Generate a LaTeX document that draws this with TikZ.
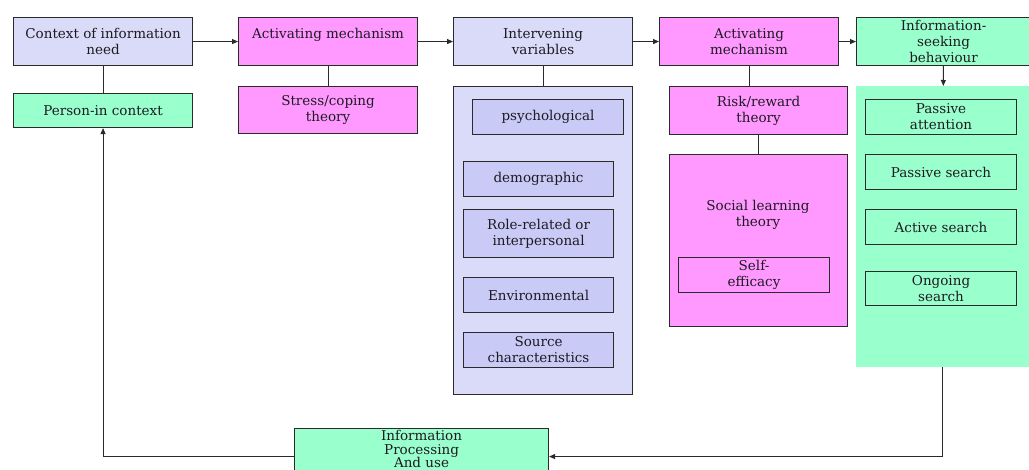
\documentclass[tikz,border=0pt]{standalone}
\usepackage{fontspec}
\setmainfont{DejaVu Serif}
\usetikzlibrary{arrows.meta}
\definecolor{lav}{HTML}{D9DBF8}
\definecolor{lavin}{HTML}{C9CBF6}
\definecolor{pinkf}{HTML}{FF99FF}
\definecolor{greenf}{HTML}{99FFCC}
\definecolor{linec}{HTML}{2A2A2A}
\definecolor{txtc}{HTML}{1E1A22}
\newcommand\fs{\fontsize{13.5}{16}\selectfont}
\tikzset{
  box/.style={draw=linec, line width=1.1pt, inner sep=0pt, align=center, anchor=north west, font=\fs, text=txtc},
  plain/.style={inner sep=0pt, align=center, anchor=north west, font=\fs, text=txtc},
  ln/.style={draw=linec, line width=1.1pt},
  arr/.style={draw=linec, line width=1.1pt, -{Triangle[length=6pt,width=5pt]}},
}
\begin{document}
\begin{tikzpicture}[x=1pt,y=-1pt]
\useasboundingbox (0,0) rectangle (1029,470);
\clip (0,0) rectangle (1029,470);
\fill[white] (0,0) rectangle (1029,470);
% top row
\node[box, fill=lav, minimum width=179pt, minimum height=48pt] (ctx) at (13,17) {Context of information\\need};
\node[box, fill=pinkf, minimum width=179pt, minimum height=48pt] (am1) at (238,17) {Activating mechanism\\\phantom{x}};
\node[box, fill=lav, minimum width=179pt, minimum height=48pt] (intv) at (453,17) {Intervening\\variables};
\node[box, fill=pinkf, minimum width=179pt, minimum height=48pt] (am2) at (659,17) {Activating\\mechanism};
\node[box, fill=greenf, minimum width=174pt, minimum height=48pt] (info) at (856,17) {Information-\\seeking\\behaviour};
% second row
\node[box, fill=greenf, minimum width=179pt, minimum height=34pt] (pic) at (13,93) {Person-in context};
\node[box, fill=pinkf, minimum width=179pt, minimum height=47pt] (stress) at (238,86) {Stress/coping\\theory};
% intervening container
\node[box, fill=lav, minimum width=179pt, minimum height=308pt] (ivc) at (453,86) {};
\node[box, fill=lavin, minimum width=151pt, minimum height=35pt] (psy) at (472,99) {psychological};
\node[box, fill=lavin, minimum width=150pt, minimum height=35pt] (dem) at (463,161) {demographic};
\node[box, fill=lavin, minimum width=150pt, minimum height=48pt] (role) at (463,209) {Role-related or\\interpersonal};
\node[box, fill=lavin, minimum width=150pt, minimum height=35pt] (env) at (463,277) {Environmental};
\node[box, fill=lavin, minimum width=150pt, minimum height=35pt] (src) at (463,332) {Source\\characteristics};
% risk / social
\node[box, fill=pinkf, minimum width=178pt, minimum height=48pt] (risk) at (669,86) {Risk/reward\\theory};
\node[box, fill=pinkf, minimum width=178pt, minimum height=172pt] (social) at (669,154) {};
\node[plain, anchor=center] (soctxt) at (758,215) {Social learning\\theory};
\node[box, fill=pinkf, minimum width=151pt, minimum height=35pt] (self) at (678,257) {Self-\\efficacy};
% green container
\node[plain, fill=greenf, minimum width=173pt, minimum height=281pt] (gc) at (856,86) {};
\node[box, fill=greenf, minimum width=151pt, minimum height=35pt] (pa) at (865,99) {Passive\\attention};
\node[box, fill=greenf, minimum width=151pt, minimum height=35pt] (ps) at (865,154) {Passive search};
\node[box, fill=greenf, minimum width=151pt, minimum height=35pt] (as) at (865,209) {Active search};
\node[box, fill=greenf, minimum width=151pt, minimum height=34pt] (os) at (865,271) {Ongoing\\search};
% processing
\node[box, fill=greenf, minimum width=254pt, minimum height=56pt, font=\fontsize{13.5}{13.5}\selectfont] (proc) at (294,428) {Information\\Processing\\And use\\[1pt]\phantom{x}};
% connectors
\draw[arr] (ctx) -- (am1);
\draw[arr] (am1) -- (intv);
\draw[arr] (intv) -- (am2);
\draw[arr] (am2) -- (info);
\draw[ln] (ctx) -- (pic);
\draw[ln] (am1) -- (stress);
\draw[ln] (intv) -- (ivc);
\draw[ln] (am2.south) -- (am2.south |- risk.north);
\draw[ln] (risk) -- (social);
\draw[arr] (info) -- (gc);
\draw[arr] (gc.south) |- (proc.east);
\draw[arr] (proc.west) -| (pic.south);
\end{tikzpicture}
\end{document}
